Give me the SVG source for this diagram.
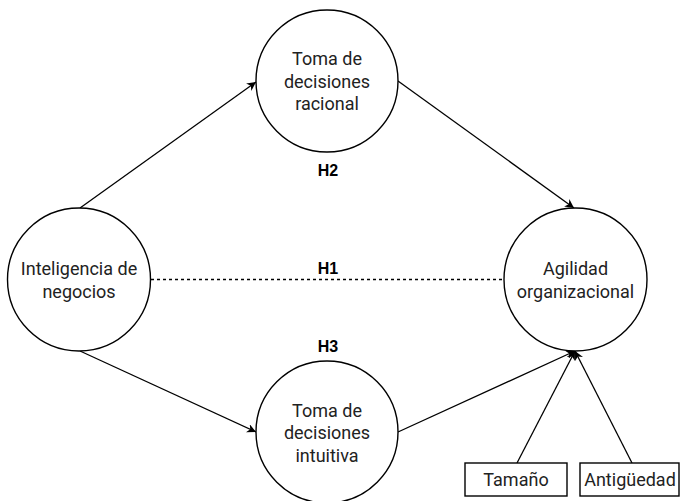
<svg xmlns="http://www.w3.org/2000/svg" width="680" height="501" viewBox="0 0 680 501">
  <style>
    .node { fill: #ffffff; stroke: #000000; stroke-width: 1.4; }
    .lbl { font-family: Roboto, "Liberation Sans", sans-serif; font-size: 18px; fill: #222222; text-anchor: middle; }
    .hyp { font-family: "Liberation Sans", Arial, sans-serif; font-size: 16px; font-weight: bold; fill: #000000; text-anchor: middle; }
    .edge { fill: none; stroke: #000000; stroke-width: 1.3; }
    .dash { stroke-dasharray: 3 3; }
  </style>
  <defs>
    <marker id="arr" viewBox="0 0 10 10" refX="10" refY="5" markerWidth="9" markerHeight="9" markerUnits="userSpaceOnUse" orient="auto">
      <path d="M0,0 L10,5 L0,10 L3,5 Z" fill="#000000"/>
    </marker>
  </defs>

  <g id="connectors">
    <line class="edge" x1="80" y1="208" x2="256" y2="82" marker-end="url(#arr)"/>
    <line class="edge" x1="398" y1="81" x2="574" y2="208" marker-end="url(#arr)"/>
    <line class="edge" x1="80" y1="351" x2="256" y2="432" marker-end="url(#arr)"/>
    <line class="edge" x1="398" y1="432" x2="575" y2="351" marker-end="url(#arr)"/>
    <line class="edge dash" x1="151" y1="279.5" x2="504" y2="279.5"/>
    <line class="edge" x1="517" y1="463" x2="575" y2="351" marker-end="url(#arr)"/>
    <line class="edge" x1="632" y1="463" x2="575" y2="351" marker-end="url(#arr)"/>
  </g>

  <g id="hypotheses">
    <text class="hyp" x="328" y="176">H2</text>
    <text class="hyp" x="328" y="274">H1</text>
    <text class="hyp" x="328" y="352">H3</text>
  </g>

  <g id="inteligencia">
    <circle class="node" cx="79" cy="279.5" r="71.5"/>
    <text class="lbl" x="79" y="275">Inteligencia de</text>
    <text class="lbl" x="79" y="297.5">negocios</text>
  </g>

  <g id="racional">
    <circle class="node" cx="327" cy="81" r="71"/>
    <text class="lbl" x="327" y="65">Toma de</text>
    <text class="lbl" x="327" y="87.5">decisiones</text>
    <text class="lbl" x="327" y="110">racional</text>
  </g>

  <g id="intuitiva">
    <circle class="node" cx="327" cy="432" r="71"/>
    <text class="lbl" x="327" y="416.5">Toma de</text>
    <text class="lbl" x="327" y="439">decisiones</text>
    <text class="lbl" x="327" y="461.5">intuitiva</text>
  </g>

  <g id="agilidad">
    <circle class="node" cx="575.5" cy="279.5" r="71.5"/>
    <text class="lbl" x="575.5" y="275">Agilidad</text>
    <text class="lbl" x="575.5" y="297.5">organizacional</text>
  </g>

  <g id="tamano">
    <rect class="node" x="465" y="463" width="102" height="33"/>
    <text class="lbl" x="516" y="486">Tamaño</text>
  </g>

  <g id="antiguedad">
    <rect class="node" x="580" y="463" width="99" height="33"/>
    <text class="lbl" x="630" y="486">Antigüedad</text>
  </g>
</svg>
